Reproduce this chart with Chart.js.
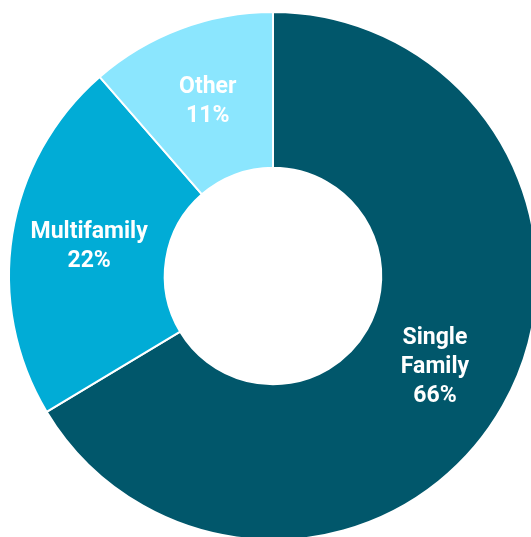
<!DOCTYPE html>
<html>
<head>
<meta charset="utf-8">
<script src="https://cdn.jsdelivr.net/npm/chart.js@4"></script>
<style>
  html, body { margin: 0; padding: 0; background: #fff; overflow: hidden; }
  #wrap { position: absolute; left: 0; top: 0; width: 546px; height: 552px; }
</style>
</head>
<body>
<div id="wrap"><canvas id="housingChart"></canvas></div>
<script>
// Housing type share (percent)
const labels = [['Single', 'Family'], ['Multifamily'], ['Other']];
const shares = [66.4, 22.2, 11.4];
const colors = ['#01576b', '#01acd6', '#8be6fe'];

// draw white labels at each slice centroid
const sliceLabels = {
    id: 'sliceLabels',
    afterDatasetsDraw(chart) {
        const ctx = chart.ctx;
        const meta = chart.getDatasetMeta(0);
        ctx.save();
        ctx.fillStyle = '#ffffff';
        ctx.font = 'bold 23px Roboto, "Noto Sans", sans-serif';
        ctx.textAlign = 'center';
        ctx.textBaseline = 'middle';
        const lineH = 29;
        meta.data.forEach(function(arc, i) {
            const pos = arc.tooltipPosition();
            const lines = labels[i].concat([Math.round(shares[i]) + '%']);
            const startY = pos.y - (lines.length - 1) * lineH / 2;
            lines.forEach(function(txt, j) {
                ctx.fillText(txt, pos.x, startY + j * lineH);
            });
        });
        ctx.restore();
    }
};

new Chart(document.getElementById('housingChart'), {
    type: 'doughnut',
    data: {
        labels: labels.map(function(l) { return l.join(' '); }),
        datasets: [{
            data: shares,
            backgroundColor: colors,
            borderColor: '#ffffff',
            borderWidth: 2,
            hoverOffset: 0
        }]
    },
    options: {
        responsive: true,
        maintainAspectRatio: false,
        animation: false,
        cutout: '41%',
        layout: { padding: { left: 8, right: 8, top: 11, bottom: 11 } },
        plugins: {
            legend: { display: false },
            tooltip: { enabled: false }
        }
    },
    plugins: [sliceLabels]
});
</script>
</body>
</html>
